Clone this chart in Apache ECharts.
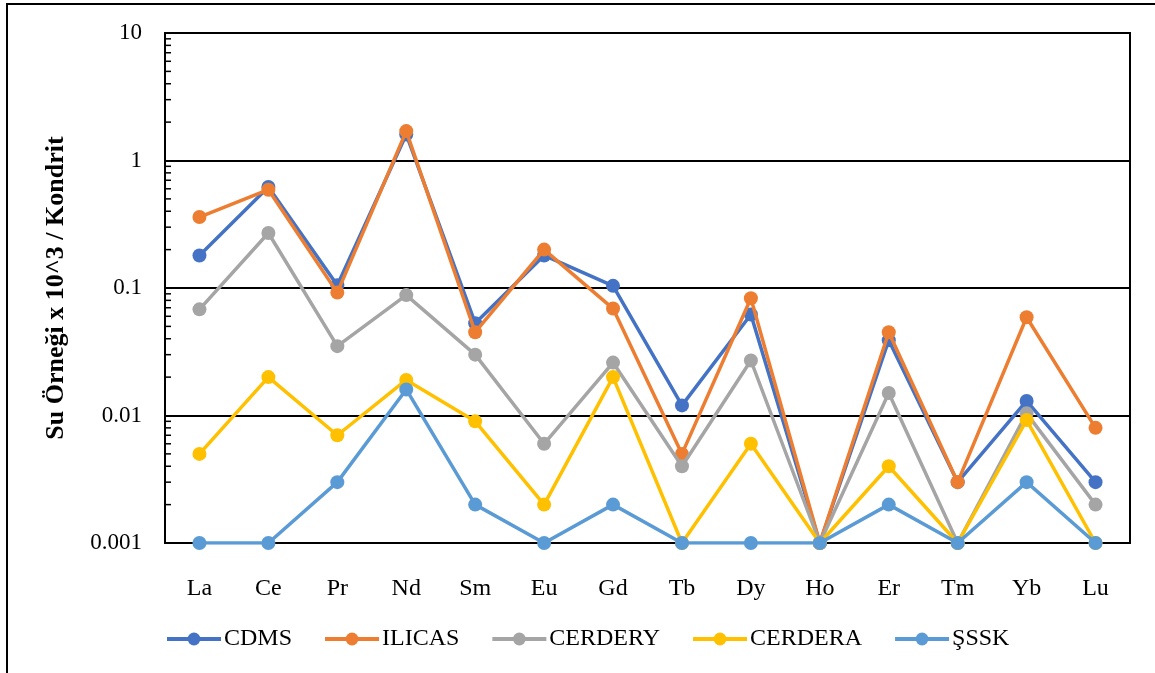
<!DOCTYPE html>
<html>
<head>
<meta charset="utf-8">
<script src="https://cdn.jsdelivr.net/npm/echarts@6/dist/echarts.min.js"></script>
<style>
  html, body { margin: 0; padding: 0; background: #fff; overflow: hidden; }
  #frame { position: absolute; left: 6px; top: 3px; width: 1300px; height: 800px; border: 2px solid #000; box-sizing: border-box; }
  #chart { position: absolute; left: 0; top: 0; width: 1155px; height: 673px; }
</style>
</head>
<body>
<div id="frame"></div>
<div id="chart"></div>
<script>
// ---- data ----
const categories = ['La', 'Ce', 'Pr', 'Nd', 'Sm', 'Eu', 'Gd', 'Tb', 'Dy', 'Ho', 'Er', 'Tm', 'Yb', 'Lu'];
const CDMS    = [0.18, 0.62, 0.105, 1.6, 0.053, 0.18, 0.104, 0.012, 0.062, 0.001, 0.039, 0.003, 0.013, 0.003];
const ILICAS  = [0.36, 0.59, 0.092, 1.7, 0.045, 0.2, 0.069, 0.005, 0.083, 0.001, 0.045, 0.003, 0.059, 0.008];
const CERDERY = [0.068, 0.27, 0.035, 0.088, 0.03, 0.006, 0.026, 0.004, 0.027, 0.001, 0.015, 0.001, 0.0104, 0.002];
const CERDERA = [0.005, 0.02, 0.007, 0.019, 0.009, 0.002, 0.02, 0.001, 0.006, 0.001, 0.004, 0.001, 0.0092, 0.001];
const SSSK    = [0.001, 0.001, 0.003, 0.016, 0.002, 0.001, 0.002, 0.001, 0.001, 0.001, 0.002, 0.001, 0.003, 0.001];
const seriesNames = ['CDMS', 'ILICAS', 'CERDERY', 'CERDERA', 'ŞSSK'];
const yTickLabels = ['0.001', '0.01', '0.1', '1', '10'];
const yTitle = 'Su Örneği x 10^3 / Kondrit';
const minorDecades = [0.001, 0.01, 0.1, 1];
const minorMultipliers = [2, 3, 4, 5, 6, 7, 8, 9];

// ---- styling ----
const colors = ['#4472C4', '#ED7D31', '#A5A5A5', '#FFC000', '#5B9BD5'];
const seriesData = [CDMS, ILICAS, CERDERY, CERDERA, SSSK];
const FONT = '"Liberation Serif", "Times New Roman", serif';

const minorTickData = [];
minorDecades.forEach(d => minorMultipliers.forEach(m => minorTickData.push([0, d * m])));

const chart = echarts.init(document.getElementById('chart'), null, { renderer: 'canvas' });

const lineSeries = seriesNames.map((name, i) => ({
  name: name,
  type: 'line',
  data: seriesData[i],
  symbol: 'circle',
  symbolSize: 14,
  color: colors[i],
  lineStyle: { width: 3.5, color: colors[i] },
  itemStyle: { color: colors[i] },
  z: 2 + i,
  emphasis: { disabled: true },
  animation: false
}));

lineSeries.push({
  name: 'minorTicks',
  type: 'custom',
  silent: true,
  animation: false,
  z: 10,
  data: minorTickData,
  encode: { x: 0, y: 1 },
  renderItem: function (params, api) {
    const y = api.coord([0, api.value(1)])[1];
    const x = params.coordSys.x;
    return {
      type: 'line',
      shape: { x1: x, y1: y, x2: x + 6, y2: y },
      style: { stroke: '#000', lineWidth: 1.5 }
    };
  }
});

chart.setOption({
  animation: false,
  backgroundColor: 'transparent',
  textStyle: { fontFamily: FONT },
  grid: {
    left: 165, right: 25, top: 33, bottom: 130,
    show: true, borderColor: '#000', borderWidth: 2
  },
  legend: {
    data: seriesNames,
    top: 622,
    left: 160,
    itemWidth: 54,
    itemHeight: 16,
    itemGap: 31,
    textStyle: { fontFamily: FONT, fontSize: 24, color: '#000', padding: [0, 0, 0, -2] },
    lineStyle: { width: 4 }
  },
  xAxis: {
    type: 'category',
    data: categories,
    boundaryGap: true,
    axisLine: { lineStyle: { color: '#000', width: 2 } },
    axisTick: { show: false },
    axisLabel: { fontFamily: FONT, fontSize: 24, color: '#000', margin: 34 },
    splitLine: { show: false }
  },
  yAxis: {
    type: 'log',
    logBase: 10,
    min: 0.001,
    max: 10,
    name: yTitle,
    nameLocation: 'middle',
    nameGap: 96,
    nameRotate: 90,
    nameTextStyle: { fontFamily: FONT, fontSize: 26, fontWeight: 'bold', color: '#000' },
    axisLine: { show: true, lineStyle: { color: '#000', width: 2 } },
    axisTick: { show: false },
    axisLabel: {
      fontFamily: FONT, fontSize: 23, color: '#000', margin: 23,
      formatter: function (v, idx) { return yTickLabels[idx]; }
    },
    splitLine: { show: true, lineStyle: { color: '#000', width: 2 } }
  },
  series: lineSeries
});
</script>
</body>
</html>
